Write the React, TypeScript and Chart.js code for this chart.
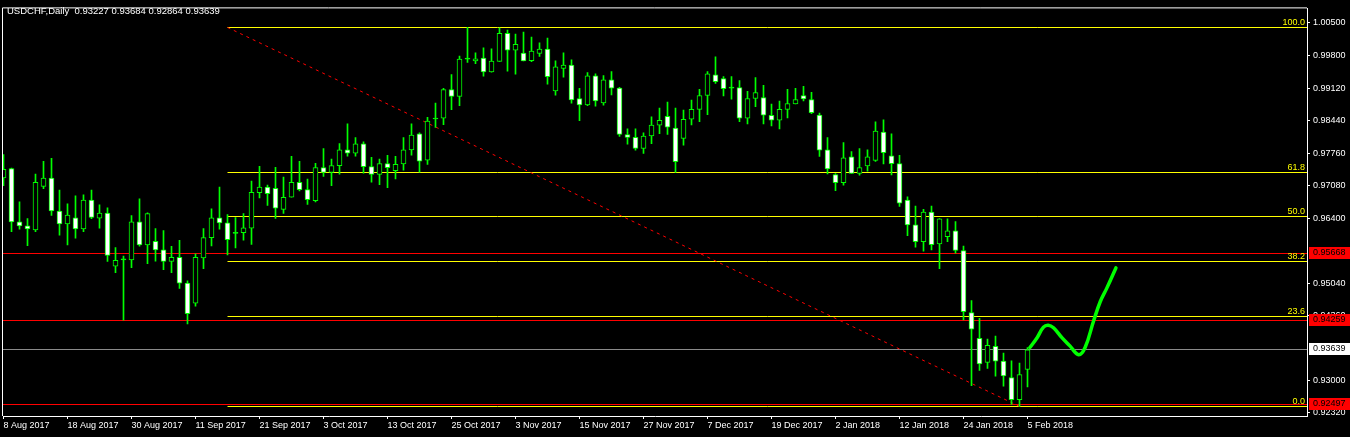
import React, { useEffect, useRef } from 'react';
import { Chart, registerables } from 'chart.js';

Chart.register(...registerables);

const titleText = 'USDCHF,Daily  0.93227 0.93684 0.92864 0.93639';

const opens = [
  0.97245, 0.97440, 0.96322, 0.96239, 0.96156, 0.97067, 0.97239, 0.96550, 0.96281, 0.96405,
  0.96177, 0.96777, 0.96400, 0.96508, 0.95391, 0.95527, 0.95527, 0.96322, 0.95838, 0.95914,
  0.95734, 0.95494, 0.95577, 0.95039, 0.94617, 0.95569, 0.95991, 0.96405, 0.96301, 0.96080,
  0.96094, 0.96190, 0.96935, 0.97053, 0.97026, 0.96583, 0.96839, 0.97150, 0.96997, 0.96769,
  0.97460, 0.97357, 0.97502, 0.97833, 0.97762, 0.97957, 0.97481, 0.97315, 0.97543, 0.97398,
  0.97535, 0.97833, 0.98170, 0.97617, 0.98480, 0.98495, 0.99095, 0.98950, 0.99736, 0.99695,
  0.99757, 0.99467, 0.99687, 1.00274, 0.99923, 0.99861, 0.99701, 0.99852, 0.99943, 0.99066,
  0.99542, 0.99612, 0.98909, 0.98776, 0.99385, 0.98818, 0.99302, 0.99128, 0.98155, 0.98093,
  0.97860, 0.98122, 0.98350, 0.98536, 0.98288, 0.98073, 0.98474, 0.98681, 0.98971, 0.99405,
  0.99329, 0.99128, 0.99136, 0.98495, 0.98909, 0.98929, 0.98557, 0.98453, 0.98681, 0.98797,
  0.98971, 0.98888, 0.98563, 0.97833, 0.97315, 0.97142, 0.97688, 0.97336, 0.97493, 0.97611,
  0.98205, 0.97709, 0.97543, 0.96777, 0.96260, 0.95908, 0.96529, 0.95859, 0.96012, 0.96136,
  0.95722, 0.94418, 0.93880, 0.93375, 0.93715, 0.93404, 0.93059, 0.92597, 0.93227,
];
const highs = [
  0.97735, 0.97450, 0.96742, 0.96390, 0.97322, 0.97591, 0.97653, 0.96990, 0.96701, 0.96866,
  0.96887, 0.96990, 0.96680, 0.96618, 0.95784, 0.95604, 0.96452, 0.96804, 0.96514, 0.96183,
  0.96142, 0.95811, 0.95935, 0.95087, 0.95652, 0.96183, 0.96597, 0.97053, 0.96473, 0.96411,
  0.96494, 0.97177, 0.97487, 0.97094, 0.97466, 0.97259, 0.97694, 0.97591, 0.97218, 0.97549,
  0.97860, 0.97638, 0.97963, 0.98377, 0.98087, 0.97998, 0.97673, 0.97638, 0.97715, 0.97694,
  0.98087, 0.98377, 0.98191, 0.98516, 0.98811, 0.99122, 0.99412, 0.99799, 1.00399, 0.99867,
  0.99970, 0.99950, 1.00390, 1.00343, 1.00260, 1.00301, 1.00198, 1.00074, 1.00177, 0.99701,
  0.99867, 0.99722, 0.99122, 0.99453, 0.99426, 0.99391, 0.99474, 0.99143, 0.98273, 0.98273,
  0.98191, 0.98522, 0.98708, 0.98832, 0.98708, 0.98667, 0.98874, 0.99101, 0.99474, 0.99784,
  0.99370, 0.99370, 0.99287, 0.99060, 0.99349, 0.99184, 0.98791, 0.98853, 0.99101, 0.99122,
  0.99163, 0.99039, 0.98605, 0.98087, 0.97336, 0.97984, 0.97798, 0.97860, 0.97833, 0.98418,
  0.98460, 0.98170, 0.97715, 0.96846, 0.96653, 0.96583, 0.96653, 0.96390, 0.96384, 0.96328,
  0.95817, 0.94673, 0.94300, 0.93866, 0.93928, 0.93570, 0.93411, 0.93363, 0.93684,
];
const lows = [
  0.97079, 0.96115, 0.96169, 0.95825, 0.96115, 0.97017, 0.96459, 0.96045, 0.95838, 0.95983,
  0.96115, 0.96390, 0.96190, 0.95494, 0.95258, 0.94259, 0.95362, 0.95811, 0.95445, 0.95500,
  0.95320, 0.95258, 0.94927, 0.94182, 0.94555, 0.95341, 0.95817, 0.96169, 0.95631, 0.95776,
  0.95941, 0.95852, 0.96825, 0.96666, 0.96397, 0.96500, 0.96839, 0.96970, 0.96686, 0.96742,
  0.97274, 0.97079, 0.97322, 0.97700, 0.97700, 0.97342, 0.97156, 0.97100, 0.97038, 0.97224,
  0.97404, 0.97721, 0.97363, 0.97528, 0.98300, 0.98362, 0.98673, 0.98756, 0.99666, 0.99639,
  0.99376, 0.99460, 0.99687, 0.99480, 0.99418, 0.99695, 0.99681, 0.99790, 0.99211, 0.98977,
  0.99356, 0.98811, 0.98445, 0.98756, 0.98749, 0.98770, 0.98983, 0.98114, 0.97949, 0.97824,
  0.97756, 0.97963, 0.98170, 0.98155, 0.97357, 0.97928, 0.98356, 0.98424, 0.98569, 0.99225,
  0.98962, 0.98894, 0.98424, 0.98377, 0.98735, 0.98377, 0.98335, 0.98273, 0.98501, 0.98797,
  0.98859, 0.98590, 0.97694, 0.97328, 0.96976, 0.97094, 0.97336, 0.97301, 0.97384, 0.97591,
  0.97535, 0.97307, 0.96645, 0.96032, 0.95790, 0.95707, 0.95734, 0.95341, 0.95908, 0.95668,
  0.94265, 0.92887, 0.93210, 0.93251, 0.93086, 0.92879, 0.92497, 0.92453, 0.92864,
];
const closes = [
  0.97425, 0.96322, 0.96239, 0.96177, 0.97150, 0.97239, 0.96550, 0.96281, 0.96467, 0.96177,
  0.96777, 0.96417, 0.96508, 0.95619, 0.95515, 0.95527, 0.96322, 0.95838, 0.96494, 0.95734,
  0.95494, 0.95577, 0.95039, 0.94398, 0.95577, 0.95991, 0.96405, 0.96301, 0.95950, 0.96080,
  0.96198, 0.96943, 0.97053, 0.96914, 0.96612, 0.96839, 0.97150, 0.96997, 0.96790, 0.97460,
  0.97357, 0.97502, 0.97833, 0.97762, 0.97957, 0.97481, 0.97315, 0.97543, 0.97460, 0.97528,
  0.97833, 0.98143, 0.97597, 0.98433, 0.98480, 0.99095, 0.98950, 0.99736, 0.99736, 0.99743,
  0.99467, 0.99695, 1.00274, 0.99923, 1.00047, 0.99695, 0.99902, 0.99943, 0.99364, 0.99571,
  0.99612, 0.98880, 0.98776, 0.99385, 0.98859, 0.99302, 0.99128, 0.98155, 0.98093, 0.97860,
  0.98122, 0.98350, 0.98453, 0.98309, 0.97584, 0.98474, 0.98681, 0.98971, 0.99426, 0.99260,
  0.99116, 0.99128, 0.98495, 0.98909, 0.99033, 0.98557, 0.98453, 0.98681, 0.98805, 0.98888,
  0.98900, 0.98611, 0.97824, 0.97431, 0.97142, 0.97667, 0.97336, 0.97460, 0.97688, 0.98226,
  0.97771, 0.97543, 0.96715, 0.96260, 0.95908, 0.96529, 0.95846, 0.96384, 0.96136, 0.95722,
  0.94439, 0.94073, 0.93342, 0.93735, 0.93404, 0.93094, 0.92597, 0.93121, 0.93639,
];

const dateTickIndex = [0, 8, 16, 24, 32, 40, 48, 56, 64, 72, 80, 88, 96, 104, 112, 120, 128];
const dateLabels = [
  '8 Aug 2017', '18 Aug 2017', '30 Aug 2017', '11 Sep 2017', '21 Sep 2017', '3 Oct 2017',
  '13 Oct 2017', '25 Oct 2017', '3 Nov 2017', '15 Nov 2017', '27 Nov 2017', '7 Dec 2017',
  '19 Dec 2017', '2 Jan 2018', '12 Jan 2018', '24 Jan 2018', '5 Feb 2018',
];
// 0.95720 and 0.93680 are hidden behind the price boxes in the original
const priceTicks = [
  1.005, 0.998, 0.9912, 0.9844, 0.9776, 0.9708, 0.964, 0.9504, 0.9436, 0.93, 0.9232,
];

const fibLow = 0.92453;
const fibHigh = 1.00399;
const fibStartBar = 28;
const fibEndBar = 127;
const fibLevels = [0, 23.6, 38.2, 50, 61.8, 100];
const redLevels = [0.95668, 0.94259, 0.92497];
const bidPrice = 0.93639;

const pathBars = [128.3, 129.2, 130.0, 130.6, 131.25, 132.3, 133.3, 134.4, 135.2, 136.25, 137.1, 137.9, 139.05];
const pathPrices = [0.93687, 0.93894, 0.94115, 0.94156, 0.94101, 0.93894, 0.93722, 0.93536, 0.93687, 0.94239, 0.94653, 0.94928, 0.95357];

const X_MIN = -0.0625;
const X_MAX = 162.9375;
const Y_MIN = 0.92252;
const Y_MAX = 1.00798;

const FONT = 'Liberation Sans';

const fibPrice = (lvl: number) => fibLow + (fibHigh - fibLow) * lvl / 100;

// keeps the 1px horizontal level lines on whole pixel rows so they stay crisp
const snapPlugin = {
  id: 'snapLevelLines',
  beforeDatasetDraw(chart: any, args: any) {
    const ds = chart.data.datasets[args.index];
    if (!ds || !ds.snapY) return;
    const meta = chart.getDatasetMeta(args.index);
    const pt = meta.data && meta.data[0];
    if (!pt) return;
    const py = pt.y;
    const target = Math.floor(py) + 0.5;
    chart.ctx.save();
    chart.ctx.translate(0, target - py);
    ds._snapped = true;
  },
  afterDatasetDraw(chart: any, args: any) {
    const ds = chart.data.datasets[args.index];
    if (!ds || !ds._snapped) return;
    ds._snapped = false;
    chart.ctx.restore();
  },
};

const overlayPlugin = {
  id: 'mtOverlay',
  beforeDraw(chart: any) {
    const { ctx, width, height } = chart;
    ctx.save();
    ctx.fillStyle = '#000000';
    ctx.fillRect(0, 0, width, height);
    ctx.restore();
  },
  afterDraw(chart: any) {
    const { ctx, chartArea: a, scales } = chart;
    const y = scales.y;
    ctx.save();
    ctx.strokeStyle = '#ffffff';
    ctx.lineWidth = 1;
    ctx.beginPath();
    ctx.moveTo(a.left - 0.5, a.bottom);
    ctx.lineTo(a.left - 0.5, a.top - 0.5);
    ctx.lineTo(a.right, a.top - 0.5);
    ctx.stroke();

    ctx.font = `9.5px "${FONT}"`;
    ctx.fillStyle = '#ffffff';
    ctx.textBaseline = 'middle';
    ctx.textAlign = 'left';
    ctx.fillText(titleText, 7, 11);

    ctx.font = `9px "${FONT}"`;
    ctx.fillStyle = '#ffff00';
    ctx.textAlign = 'right';
    ctx.textBaseline = 'bottom';
    fibLevels.forEach((lvl) => {
      const py = Math.floor(y.getPixelForValue(fibPrice(lvl)));
      ctx.fillText(lvl.toFixed(1), a.right - 2, py);
    });

    const box = (price: number, bg: string) => {
      const py = Math.floor(y.getPixelForValue(price));
      ctx.fillStyle = bg;
      ctx.fillRect(a.right + 2, py - 6, chart.width - a.right - 2, 12);
      ctx.fillStyle = '#000000';
      ctx.textAlign = 'left';
      ctx.textBaseline = 'middle';
      ctx.fillText(price.toFixed(5), a.right + 6, py);
    };
    redLevels.forEach((p) => box(p, '#ff0000'));
    box(bidPrice, '#ffffff');
    ctx.restore();
  },
};

export default function App() {
  const canvasRef = useRef<HTMLCanvasElement | null>(null);

  useEffect(() => {
    const canvas = canvasRef.current;
    if (!canvas) return;
    const idx = opens.map((_, i) => i);
    const hLine = (x0: number, x1: number, p: number, color: string, order: number) => ({
      type: 'line' as const,
      data: [{ x: x0, y: p }, { x: x1, y: p }],
      borderColor: color,
      borderWidth: 1,
      pointRadius: 0,
      tension: 0,
      order,
      snapY: true,
    });
    const datasets: any[] = [
      {
        type: 'line',
        label: 'path',
        data: pathBars.map((x, k) => ({ x, y: pathPrices[k] })),
        borderColor: '#00ff00',
        borderWidth: 3.5,
        pointRadius: 0,
        tension: 0.4,
        borderCapStyle: 'round',
        borderJoinStyle: 'round',
        order: 0,
      },
      {
        type: 'bar',
        label: 'bodies',
        data: idx.map((i) => ({ x: i, y: [opens[i], closes[i]] })),
        backgroundColor: idx.map((i) =>
          closes[i] > opens[i] ? '#000000' : closes[i] < opens[i] ? '#ffffff' : '#00ff00'
        ),
        borderColor: '#00ff00',
        borderWidth: 1,
        borderSkipped: false,
        barThickness: 5,
        minBarLength: 1,
        grouped: false,
        order: 1,
      },
      {
        type: 'bar',
        label: 'wicks',
        data: idx.map((i) => ({ x: i, y: [lows[i], highs[i]] })),
        backgroundColor: '#00ff00',
        borderWidth: 0,
        barThickness: 1,
        grouped: false,
        order: 2,
      },
      {
        type: 'line',
        label: 'fibTrend',
        data: [
          { x: fibStartBar, y: fibHigh },
          { x: fibEndBar, y: fibLow },
        ],
        borderColor: '#ff0000',
        borderWidth: 1,
        borderDash: [3, 4],
        pointRadius: 0,
        order: 3,
      },
      ...fibLevels.map((lvl) => hLine(fibStartBar, X_MAX, fibPrice(lvl), '#ffff00', 4)),
      ...redLevels.map((p) => hLine(X_MIN, X_MAX, p, '#ff0000', 5)),
      hLine(X_MIN, X_MAX, bidPrice, '#8a8a8a', 6),
    ];

    const chart = new Chart(canvas, {
      type: 'bar',
      data: { datasets },
      options: {
        animation: false,
        responsive: false,
        devicePixelRatio: 1,
        layout: { padding: { left: 3, top: 3, right: 0, bottom: 0 } },
        plugins: { legend: { display: false }, tooltip: { enabled: false } },
        scales: {
          x: {
            type: 'linear',
            position: 'bottom',
            min: X_MIN,
            max: X_MAX,
            offset: false,
            afterBuildTicks: (s: any) => {
              s.ticks = dateTickIndex.map((v) => ({ value: v }));
            },
            afterFit: (s: any) => {
              s.height = 21;
            },
            ticks: {
              callback: (_v: any, i: number) => dateLabels[i],
              autoSkip: false,
              maxRotation: 0,
              minRotation: 0,
              align: 'start',
              color: '#ffffff',
              padding: 1,
              font: { family: FONT, size: 9 },
            },
            grid: { drawOnChartArea: false, drawTicks: true, tickLength: 3, color: '#ffffff', offset: false },
            border: { display: true, color: '#ffffff', width: 1 },
          },
          y: {
            type: 'linear',
            position: 'right',
            min: Y_MIN,
            max: Y_MAX,
            afterBuildTicks: (s: any) => {
              s.ticks = priceTicks.map((v) => ({ value: v }));
            },
            afterFit: (s: any) => {
              s.width = 43;
            },
            ticks: {
              callback: (v: any) => Number(v).toFixed(5),
              autoSkip: false,
              color: '#ffffff',
              padding: 3,
              font: { family: FONT, size: 9 },
            },
            grid: { drawOnChartArea: false, drawTicks: true, tickLength: 3, color: '#ffffff' },
            border: { display: true, color: '#ffffff', width: 1 },
          },
        },
      } as any,
      plugins: [snapPlugin, overlayPlugin],
    });
    return () => chart.destroy();
  }, []);

  return (
    <div style={{ position: 'fixed', left: 0, top: 0, width: 1350, height: 437, background: '#000' }}>
      <canvas ref={canvasRef} width={1350} height={437} style={{ display: 'block', width: 1350, height: 437 }} />
    </div>
  );
}
